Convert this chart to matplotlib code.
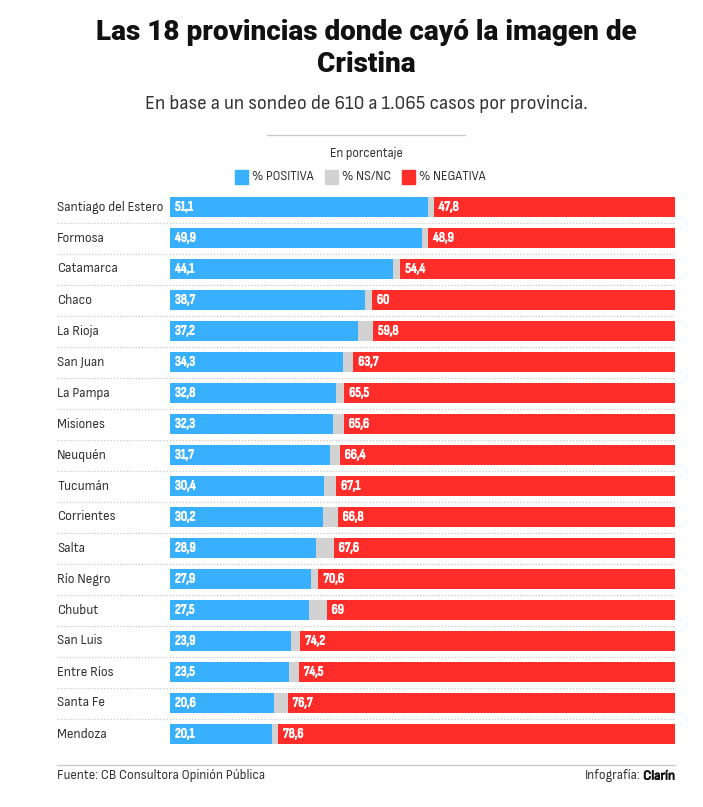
import matplotlib
matplotlib.use("Agg")
import matplotlib.pyplot as plt
import matplotlib.patheffects as pe
from matplotlib.patches import Rectangle
from matplotlib.lines import Line2D

provincias = ["Santiago del Estero", "Formosa", "Catamarca", "Chaco", "La Rioja",
              "San Juan", "La Pampa", "Misiones", "Neuquén", "Tucumán", "Corrientes",
              "Salta", "Río Negro", "Chubut", "San Luis", "Entre Ríos", "Santa Fe",
              "Mendoza"]
positiva = [51.1, 49.9, 44.1, 38.7, 37.2, 34.3, 32.8, 32.3, 31.7, 30.4, 30.2,
            28.9, 27.9, 27.5, 23.9, 23.5, 20.6, 20.1]
negativa = [47.8, 48.9, 54.4, 60, 59.8, 63.7, 65.5, 65.6, 66.4, 67.1, 66.8,
            67.6, 70.6, 69, 74.2, 74.5, 76.7, 78.6]
nsnc = [round(100 - p - n, 1) for p, n in zip(positiva, negativa)]

AZUL = "#38b0fe"
GRIS = "#d2d2d2"
ROJO = "#ff2d2a"
TXT = "#333333"
SEMI = ["Sofia Sans Semi Condensed", "DejaVu Sans"]
COND = ["Sofia Sans Condensed", "DejaVu Sans"]

W, H = 703, 807
fig = plt.figure(figsize=(W / 100, H / 100), dpi=100)


def fx(px):
    return px / W


def fy(py):
    return 1 - py / H


# fake a heavier weight, the condensed font only has one
bold_w = [pe.withStroke(linewidth=0.6, foreground="white")]
bold_k = [pe.withStroke(linewidth=0.6, foreground="#111111")]

# axes in pixel layout
top, row_h = 191.5, 31
n = len(provincias)
ax = fig.add_axes([fx(170), fy(top + n * row_h), fx(675) - fx(170), n * row_h / H])
ys = range(n)
ax.barh(ys, positiva, height=0.65, color=AZUL)
ax.barh(ys, nsnc, left=positiva, height=0.65, color=GRIS)
left_neg = [p + s for p, s in zip(positiva, nsnc)]
ax.barh(ys, negativa, left=left_neg, height=0.65, color=ROJO)
ax.set_xlim(0, 100)
ax.set_ylim(n - 0.5, -0.5)
ax.axis("off")

def fmt(v):
    return ("%g" % v).replace(".", ",")

x_lab = (57 - 170) / 505 * 100
for i, prov in enumerate(provincias):
    ax.text(x_lab, i, prov, ha="left", va="center", fontsize=9.75,
            family=SEMI, color=TXT)
    ax.text(1.0, i, fmt(positiva[i]), ha="left", va="center", fontsize=10,
            family=COND, color="white", path_effects=bold_w)
    ax.text(left_neg[i] + 1.0, i, fmt(negativa[i]), ha="left", va="center",
            fontsize=10, family=COND, color="white", path_effects=bold_w)
    if i < n - 1:
        ax.plot([x_lab, 100], [i + 0.5, i + 0.5], color="#c8c8c8", lw=0.9,
                ls=(0, (1, 1.5)), clip_on=False)

# titles
fig.text(fx(366), fy(33), "Las 18 provincias donde cayó la imagen de", ha="center",
         va="center", fontsize=20.1, fontweight="heavy", family="Roboto", color="#111111")
fig.text(fx(366), fy(65), "Cristina", ha="center", va="center", fontsize=20.1,
         fontweight="heavy", family="Roboto", color="#111111")
fig.text(fx(366), fy(104), "En base a un sondeo de 610 a 1.065 casos por provincia.",
         ha="center", va="center", fontsize=14.1, family=SEMI, color=TXT)
fig.add_artist(Line2D([fx(267), fx(465)], [fy(135), fy(135)], color="#cccccc", lw=1))
fig.text(fx(366), fy(153), "En porcentaje", ha="center", va="center", fontsize=9.3,
         family=SEMI, color=TXT)

# legend
leg = [(235, AZUL, "% POSITIVA"), (325, GRIS, "% NS/NC"), (402, ROJO, "% NEGATIVA")]
for x0, col, lab in leg:
    fig.add_artist(Rectangle((fx(x0), fy(184)), 13 / W, 14 / H, color=col,
                             transform=fig.transFigure))
    fig.text(fx(x0 + 17), fy(177), lab, ha="left", va="center", fontsize=9.2,
             family=SEMI, color=TXT)

# footer
fig.add_artist(Line2D([fx(57), fx(675)], [fy(765), fy(765)], color="#cccccc", lw=1))
fig.text(fx(57), fy(776), "Fuente: CB Consultora Opinión Pública", ha="left",
         va="center", fontsize=9.6, family=SEMI, color=TXT)
t_bold = fig.text(fx(675), fy(776), "Clarín", ha="right", va="center", fontsize=9.6,
                  family=SEMI, color="#111111", path_effects=bold_k)
fig.canvas.draw()
bb = t_bold.get_window_extent()
fig.text(bb.x0 / W - 3 / W, fy(776), "Infografía:", ha="right", va="center",
         fontsize=9.6, family=SEMI, color=TXT)

fig.savefig("out.png", dpi=100)
